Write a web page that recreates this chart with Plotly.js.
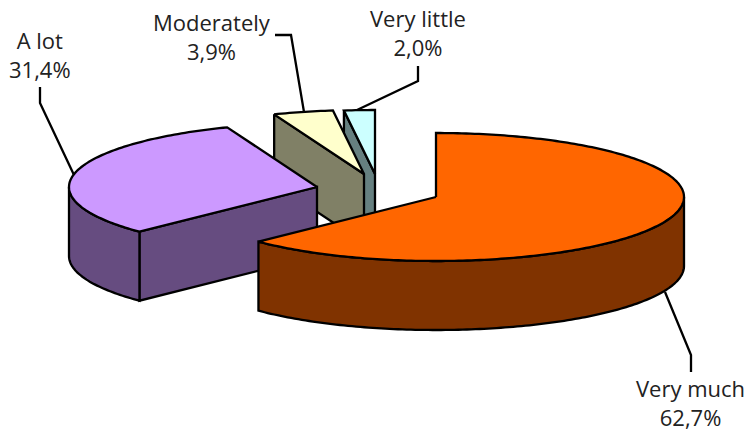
<!DOCTYPE html>
<html>
<head>
<meta charset="utf-8">
<script src="https://cdn.plot.ly/plotly-3.0.1.min.js"></script>
<style>html,body{margin:0;padding:0;background:#fff}#chart{width:748px;height:432px}</style>
</head>
<body>
<div id="chart"></div>
<script>
// Data
const categories = ["Very much", "A lot", "Moderately", "Very little"];
const shares = [62.7, 31.4, 3.9, 2.0];

// Styling and layout of the exploded tilted pie
const topColors = ["#FF6600", "#CC99FF", "#FFFFCC", "#CCFFFF"];
const sideColors = ["#803300", "#664C80", "#808066", "#668080"];
const centerX = [436, 317, 364, 375];
const centerY = [197, 187, 174, 174];
const radiusX = 248, radiusY = 64, depth = 69;
const labelX = [690, 40, 212, 418];
const labelY = [402, 54, 36, 32];
const leaderX = [[665, 691, 691], [74, 40, 40], [304, 291, 275], [357, 418, 418]];
const leaderY = [[292, 355, 372], [175, 103, 87], [112, 35, 35], [110, 81, 66]];
const fontFamily = "'Open Sans', Lato, sans-serif";
const fontSize = 22;
const strokeWidth = 2.3;

function rim(cx, cy, a0, a1, dy) {
  const xs = [], ys = [];
  const n = Math.max(2, Math.ceil(Math.abs(a1 - a0)));
  for (let i = 0; i <= n; i++) {
    const t = (a0 + (a1 - a0) * i / n) * Math.PI / 180;
    xs.push(cx + radiusX * Math.sin(t));
    ys.push(cy - radiusY * Math.cos(t) + dy);
  }
  return [xs, ys];
}
function poly(xs, ys, color) {
  return {type: "scatter", mode: "lines", x: xs.concat(xs[0]), y: ys.concat(ys[0]),
    fill: "toself", fillcolor: color, line: {color: "#000", width: strokeWidth, simplify: false},
    hoverinfo: "skip", showlegend: false, cliponaxis: false};
}

// Sector angles, clockwise from 12 o'clock
const total = shares.reduce((s, v) => s + v, 0);
let acc = 0;
const sectors = shares.map(v => { const s = acc; acc += v / total * 360; return [s, acc]; });

const traces = [];
// Draw back-to-front: smallest slices first
for (let i = shares.length - 1; i >= 0; i--) {
  const cx = centerX[i], cy = centerY[i], s = sectors[i][0], e = sectors[i][1];
  const rad = d => d * Math.PI / 180;
  // Cut face at the sector's start
  if (Math.sin(rad(s)) < -1e-6) {
    const px = cx + radiusX * Math.sin(rad(s)), py = cy - radiusY * Math.cos(rad(s));
    traces.push(poly([px, cx, cx, px], [py, cy, cy + depth, py + depth], sideColors[i]));
  }
  // Cut face at the sector's end
  if (Math.sin(rad(e)) > 1e-6) {
    const px = cx + radiusX * Math.sin(rad(e)), py = cy - radiusY * Math.cos(rad(e));
    traces.push(poly([px, cx, cx, px], [py, cy, cy + depth, py + depth], sideColors[i]));
  }
  // Outer wall on the viewer's half
  const w0 = Math.max(s, 90), w1 = Math.min(e, 270);
  if (w1 > w0) {
    const top = rim(cx, cy, w0, w1, 0), bot = rim(cx, cy, w1, w0, depth);
    traces.push(poly(top[0].concat(bot[0]), top[1].concat(bot[1]), sideColors[i]));
  }
  // Top face
  const r = rim(cx, cy, s, e, 0);
  traces.push(poly([cx].concat(r[0]), [cy].concat(r[1]), topColors[i]));
}
// Leader lines
categories.forEach((c, i) => traces.push({type: "scatter", mode: "lines", x: leaderX[i], y: leaderY[i],
  line: {color: "#000", width: strokeWidth}, hoverinfo: "skip", showlegend: false}));

const annotations = categories.map((c, i) => ({
  x: labelX[i], y: labelY[i], xref: "x", yref: "y", showarrow: false, xanchor: "center", yanchor: "middle",
  align: "center", text: c + "<br>" + shares[i].toFixed(1).replace(".", ",") + "%",
  font: {family: fontFamily, size: fontSize, color: "#222"}
}));

Plotly.newPlot("chart", traces, {
  width: 748, height: 432, margin: {l: 0, r: 0, t: 0, b: 0},
  paper_bgcolor: "#fff", plot_bgcolor: "#fff", showlegend: false,
  xaxis: {range: [0, 748], visible: false, fixedrange: true},
  yaxis: {range: [432, 0], visible: false, fixedrange: true},
  annotations
}, {displayModeBar: false, staticPlot: true});
</script>
</body>
</html>
